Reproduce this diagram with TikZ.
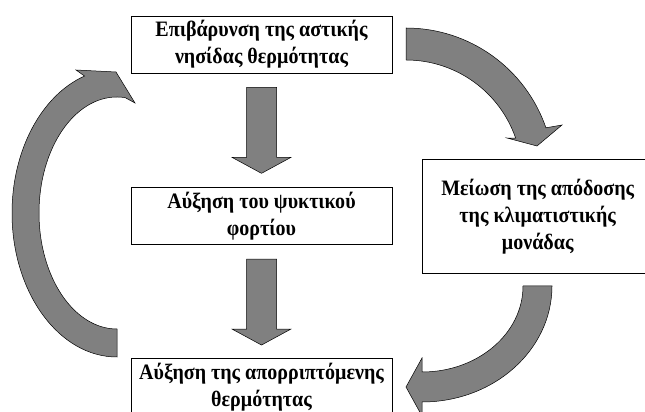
\documentclass[tikz,border=0pt]{standalone}
\usepackage{fontspec}
\setmainfont{Liberation Serif}[FakeStretch=0.91]
\definecolor{arrowgray}{RGB}{128,128,128}
\usepackage{tikz}
\usetikzlibrary{positioning,calc}

\newcommand{\blockdown}[2]{%
  \draw[blockarrow] let \p1=#1, \p2=#2 in
    (\x1-15pt,\y1) -- (\x1+15pt,\y1) -- (\x1+15pt,\y2+16pt) -- (\x1+29.5pt,\y2+16pt)
    -- (\x2,\y2) -- (\x1-29.5pt,\y2+16pt) -- (\x1-15pt,\y2+16pt) -- cycle;}

\begin{document}
\begin{tikzpicture}[x=1pt,y=1pt,
  box/.style={draw, line width=0.7pt, minimum width=261pt, minimum height=57pt,
    align=center, font=\fontsize{22}{27}\selectfont\bfseries, inner sep=2pt},
  blockarrow/.style={draw=black, line width=0.5pt, fill=arrowgray, line join=miter}]
\path[use as bounding box, clip] (0,0) rectangle (645,412);

% Boxes
\node[box] (epib) at (261.5,367.5) {Επιβάρυνση της αστικής\\νησίδας θερμότητας};
\node[box, below=114pt of epib] (psyk) {Αύξηση του ψυκτικού\\φορτίου};
\node[box, below=113pt of psyk] (apor) {Αύξηση της απορριπτόμενης\\θερμότητας};
\node[box, minimum width=230pt, minimum height=114pt, right=30pt of psyk] (meio)
  {Μείωση της απόδοσης\\της κλιματιστικής\\μονάδας};

% Straight arrows
\blockdown{($(epib.south)+(0,-14)$)}{($(psyk.north)+(0,14)$)}
\blockdown{($(psyk.south)+(0,-14)$)}{($(apor.north)+(0,13)$)}

% Curved arrows
\coordinate (c1) at (406,236);
\coordinate (c2) at (422,126);
\coordinate (c3) at (117,199);
\draw[blockarrow] ([shift={(90:148)}]c1) arc[start angle=90, end angle=19, radius=148]
  -- (562,287) -- (537,266) -- (507,274)
  -- ([shift={(19:116)}]c1) arc[start angle=19, end angle=90, radius=116] -- cycle;
\draw[blockarrow] ([shift={(0:130 and 116)}]c2) arc[start angle=0, end angle=-90, x radius=130, y radius=116]
  -- (422,-4) -- (406,25) -- (422,54)
  -- ([shift={(-90:101 and 86)}]c2) arc[start angle=-90, end angle=0, x radius=101, y radius=86] -- cycle;
\draw[blockarrow] ([shift={(270:105 and 144)}]c3) arc[start angle=270, end angle=108, x radius=105, y radius=144]
  -- (76,342) -- (116,340) -- (135,309)
  -- ([shift={(84:78 and 116)}]c3) arc[start angle=84, end angle=270, x radius=78, y radius=116] -- cycle;
\end{tikzpicture}
\end{document}
